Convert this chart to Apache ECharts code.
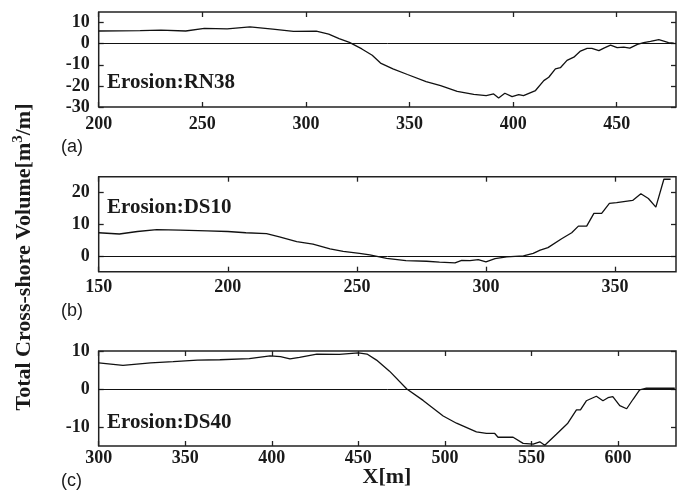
<!DOCTYPE html>
<html>
<head>
<meta charset="utf-8">
<script src="https://cdn.jsdelivr.net/npm/echarts@6/dist/echarts.min.js"></script>
<style>
  html, body { margin: 0; padding: 0; background: #fff; }
  #chart { width: 683px; height: 497px; }
</style>
</head>
<body>
<div id="chart"></div>
<script>
// Cross-shore position X [m] and total volume change [m^3/m] for each transect
const rn38X = [200, 210, 220, 230, 242, 251, 262, 273, 284, 294, 305, 311, 316, 321, 327, 332, 336, 342, 349, 358, 365, 373, 381, 387, 390.6, 393, 396, 399.5, 402.7, 405, 410.8, 414.8, 417.2, 420.4, 422.8, 426, 429.3, 432.5, 435.7, 438, 441.4, 443.8, 447, 450.2, 453.4, 456.3, 460, 463, 466.3, 470.3, 472.7, 475, 477.5];
const rn38V = [6.0, 6.1, 6.2, 6.4, 6.0, 7.2, 7.0, 8.0, 6.9, 5.8, 5.9, 4.5, 2.4, 0.6, -2.5, -5.5, -9.2, -11.9, -14.6, -18.0, -19.9, -22.6, -24.0, -24.6, -23.8, -25.7, -23.5, -25.1, -24.1, -24.6, -22.2, -17.5, -15.9, -11.9, -11.4, -7.9, -6.4, -3.5, -2.2, -2.2, -3.3, -2.1, -0.7, -1.9, -1.6, -2.1, -0.3, 0.5, 1.1, 1.9, 1.2, 0.5, 0.3];

const ds10X = [150, 158, 165, 172.5, 181.5, 192, 200, 207, 215, 220, 226.7, 233, 239.6, 244.7, 251, 255, 261.5, 269, 277, 282, 288, 290.6, 293.8, 297, 300, 303.5, 308, 314.5, 318.3, 321, 324, 329.3, 333.2, 335.8, 339, 341.8, 344.8, 347.8, 350.6, 356.8, 360, 362.9, 365.8, 368.9, 371.5];
const ds10V = [7.3, 6.9, 7.7, 8.3, 8.1, 7.9, 7.7, 7.3, 7.0, 6.0, 4.5, 3.7, 2.2, 1.4, 0.8, 0.3, -0.8, -1.5, -1.7, -2.0, -2.2, -1.4, -1.5, -1.2, -1.9, -0.9, -0.3, 0.0, 0.8, 1.8, 2.6, 5.4, 7.3, 9.4, 9.4, 13.4, 13.4, 16.6, 16.8, 17.5, 19.6, 18.1, 15.4, 24.2, 24.2];

const ds40X = [300, 314, 330, 343, 357, 370, 387, 399, 405, 410.5, 416, 426, 439, 450, 455, 460.5, 468, 478, 487.4, 499, 506.7, 518.2, 524, 528.8, 530.7, 539.4, 545.2, 551, 554.8, 557.7, 564.4, 571, 576, 578.3, 581.7, 587.5, 591.3, 594.2, 597, 601, 605, 608.7, 612.5, 616.4, 632.8];
const ds40V = [6.9, 6.2, 6.9, 7.2, 7.6, 7.7, 8.0, 8.7, 8.5, 7.9, 8.3, 9.2, 9.1, 9.5, 9.2, 7.6, 4.7, 0.0, -3.0, -7.1, -9.0, -11.3, -11.7, -11.7, -12.7, -12.7, -14.3, -14.5, -13.9, -14.8, -11.9, -9.0, -5.5, -5.5, -3.1, -1.9, -3.1, -2.3, -2.0, -4.4, -5.2, -2.7, -0.2, 0.2, 0.2];

// Panel names and tick labels
const panelNames = ['Erosion:RN38', 'Erosion:DS10', 'Erosion:DS40'];
const panelTags = ['(a)', '(b)', '(c)'];
const xTicks = [[200, 250, 300, 350, 400, 450], [150, 200, 250, 300, 350], [300, 350, 400, 450, 500, 550, 600]];
const yTicks = [[-30, -20, -10, 0, 10], [0, 10, 20], [-10, 0, 10]];
const xRanges = [[200, 478.6], [150, 373.6], [300, 633.5]];
const yRanges = [[-30, 15], [-5, 25], [-15, 10]];

const seriesX = [rn38X, ds10X, ds40X];
const seriesV = [rn38V, ds10V, ds40V];

const serif = 'Liberation Serif, Times New Roman, serif';
const ink = '#1a1a1a';

const gridTops = [12, 176.7, 351];
const labelMargins = [8, 6.5, 3];

const grids = [], xAxes = [], yAxes = [], series = [];
for (let i = 0; i < 3; i++) {
  grids.push({
    left: 98.7, right: 7, top: gridTops[i], height: 95,
    show: true, borderColor: '#222', borderWidth: 1.5, backgroundColor: 'transparent'
  });
  // Inward ticks on all four sides of each panel
  const tickStyle = { show: true, inside: true, length: 5, lineStyle: { color: '#222', width: 1.3 }, customValues: xTicks[i] };
  xAxes.push({
    type: 'value', gridIndex: i, min: xRanges[i][0], max: xRanges[i][1], position: 'bottom',
    axisLine: { show: false, onZero: false }, splitLine: { show: false },
    axisTick: tickStyle,
    axisLabel: { customValues: xTicks[i], margin: labelMargins[i], color: ink, fontFamily: serif, fontWeight: 'bold', fontSize: 18 }
  });
  xAxes.push({
    type: 'value', gridIndex: i, min: xRanges[i][0], max: xRanges[i][1], position: 'top',
    axisLine: { show: false, onZero: false }, splitLine: { show: false },
    axisTick: tickStyle, axisLabel: { show: false }
  });
  const yTickStyle = { show: true, inside: true, length: 5, lineStyle: { color: '#222', width: 1.3 }, customValues: yTicks[i] };
  yAxes.push({
    type: 'value', gridIndex: i, min: yRanges[i][0], max: yRanges[i][1], position: 'left',
    axisLine: { show: false, onZero: false }, splitLine: { show: false },
    axisTick: yTickStyle,
    axisLabel: { customValues: yTicks[i], margin: 9, color: ink, fontFamily: serif, fontWeight: 'bold', fontSize: 18 }
  });
  yAxes.push({
    type: 'value', gridIndex: i, min: yRanges[i][0], max: yRanges[i][1], position: 'right',
    axisLine: { show: false, onZero: false }, splitLine: { show: false },
    axisTick: yTickStyle, axisLabel: { show: false }
  });
  series.push({
    type: 'line', xAxisIndex: 2 * i, yAxisIndex: 2 * i,
    data: seriesX[i].map((x, k) => [x, seriesV[i][k]]),
    showSymbol: false, smooth: false, animation: false,
    lineStyle: { color: '#111', width: 1.3 },
    markLine: {
      silent: true, symbol: 'none', animation: false,
      label: { show: false },
      lineStyle: { color: '#111', width: 1, type: 'solid' },
      data: [{ yAxis: 0 }]
    }
  });
}

const panelNameTops = [84, 209, 424.5];
const panelTagTops = [148, 312, 482];
const graphics = [];
for (let i = 0; i < 3; i++) {
  graphics.push({
    type: 'text', left: 107, top: panelNameTops[i] - 12,
    style: { text: panelNames[i], fill: ink, font: 'bold 21px ' + serif }
  });
  graphics.push({
    type: 'text', left: 61, top: panelTagTops[i] - 10,
    style: { text: panelTags[i], fill: ink, font: '18px Liberation Sans, Arial, sans-serif' }
  });
}
// Shared axis titles
graphics.push({
  type: 'text', x: 24, y: 257, rotation: Math.PI / 2,
  style: {
    text: '{t|Total Cross-shore Volume[m}{s|3}{t|/m]}',
    align: 'center', verticalAlign: 'middle',
    rich: {
      t: { font: 'bold 22px ' + serif, fill: ink, lineHeight: 26 },
      s: { font: 'bold 15px ' + serif, fill: ink, verticalAlign: 'top', lineHeight: 26, padding: [0, 0, 10, 0] }
    }
  }
});
graphics.push({
  type: 'text', x: 387, y: 477,
  style: { text: 'X[m]', align: 'center', verticalAlign: 'middle', fill: ink, font: 'bold 22px ' + serif }
});

const chart = echarts.init(document.getElementById('chart'), null, { renderer: 'canvas' });
chart.setOption({
  animation: false,
  backgroundColor: '#fff',
  grid: grids,
  xAxis: xAxes,
  yAxis: yAxes,
  series: series,
  graphic: graphics
});
</script>
</body>
</html>
